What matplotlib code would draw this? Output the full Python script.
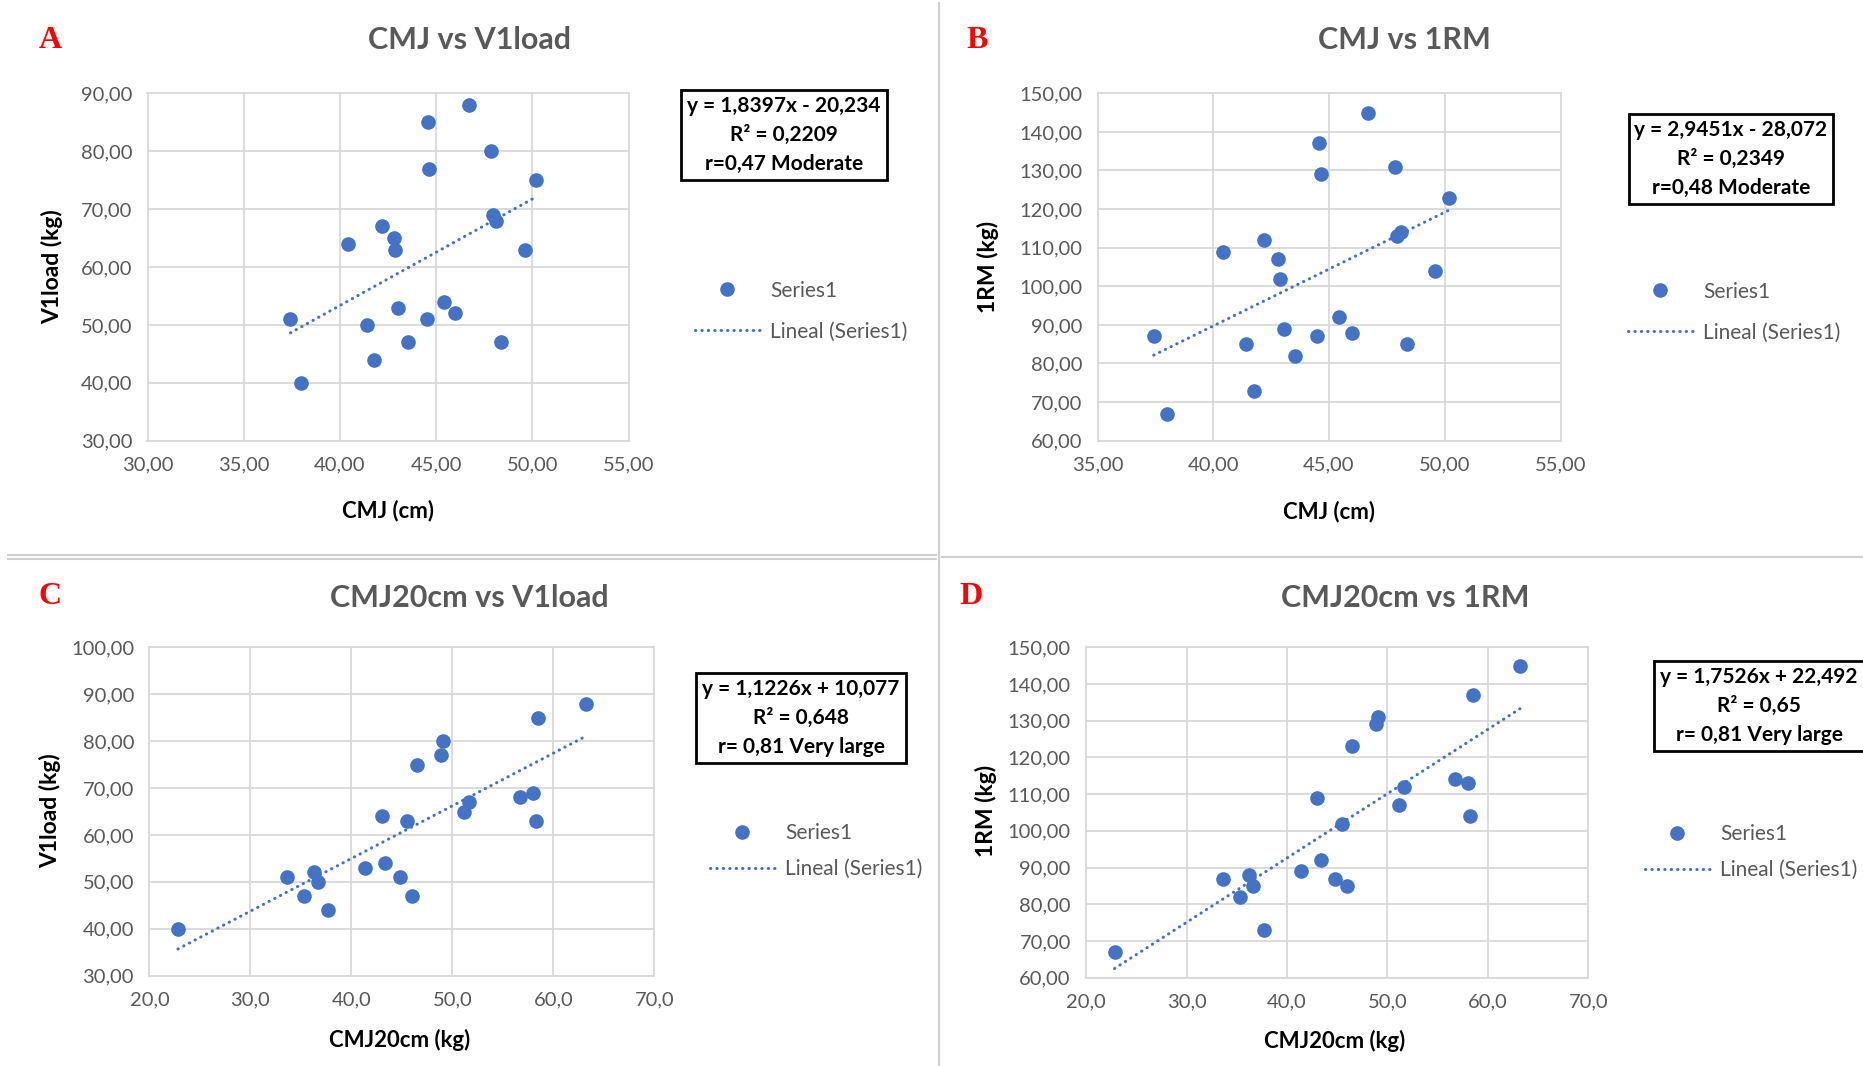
import matplotlib
matplotlib.use('Agg')
import matplotlib.pyplot as plt
from matplotlib.lines import Line2D
from matplotlib.ticker import FuncFormatter, MultipleLocator
import numpy as np

plt.rcParams['font.family'] = ['Lato', 'DejaVu Sans']

# one entry per athlete (same order in every list)
cmj = [46.7, 44.55, 47.85, 44.65, 50.2, 47.93, 48.13, 42.2, 42.8, 40.4, 42.87,
       49.6, 45.43, 43.04, 37.43, 46.0, 41.4, 44.5, 43.55, 48.37, 41.77, 38.0]
cmj20 = [63.2, 58.5, 49.1, 48.9, 46.5, 58.0, 56.7, 51.65, 51.15, 43.0, 45.5,
         58.25, 43.35, 41.38, 33.66, 36.27, 36.65, 44.8, 35.35, 46.0, 37.7, 22.83]
v1load = [88, 85, 80, 77, 75, 69, 68, 67, 65, 64, 63,
          63, 54, 53, 51, 52, 50, 51, 47, 47, 44, 40]
rm1 = [145, 137, 131, 129, 123, 113, 114, 112, 107, 109, 102,
       104, 92, 89, 87, 88, 85, 87, 82, 85, 73, 67]

# linear fits as printed on the chart (slope, intercept)
fit_a = [1.8397, -20.234]
fit_b = [2.9451, -28.072]
fit_c = [1.1226, 10.077]
fit_d = [1.7526, 22.492]

box_a = 'y = 1,8397x - 20,234\nR² = 0,2209\nr=0,47 Moderate'
box_b = 'y = 2,9451x - 28,072\nR² = 0,2349\nr=0,48 Moderate'
box_c = 'y = 1,1226x + 10,077\nR² = 0,648\nr= 0,81 Very large'
box_d = 'y = 1,7526x + 22,492\nR² = 0,65\nr= 0,81 Very large'

W, H = 1863, 1066
BLUE = '#4472C4'
GREY = '#595959'
GRID = '#d9d9d9'


def fx(px):
    return px / W


def fy(py):
    return 1 - py / H


def comma(dec):
    return FuncFormatter(lambda v, p: f'{v:.{dec}f}'.replace('.', ','))


fig = plt.figure(figsize=(W / 100, H / 100), dpi=100)

panels = [
    # letter, title, x, y, fit, box, xlabel, ylabel, xlim, xstep, xdec, ylim,
    # axes rect (px), letter pos, title pos, ylabel pos, xlabel pos, box pos, legend pos, legend gap
    ('A', 'CMJ vs V1load', cmj, v1load, fit_a, box_a, 'CMJ (cm)', 'V1load (kg)',
     (30, 55), 5, 2, (30, 90), (147.5, 93.3, 628.6, 440.7),
     (50, 41), (470, 40), (52, 267), (388, 511), (784, 135), (695, 311), 1.0),
    ('B', 'CMJ vs 1RM', cmj, rm1, fit_b, box_b, 'CMJ (cm)', '1RM (kg)',
     (35, 55), 5, 2, (60, 150), (1097.5, 93.3, 1560.5, 440.7),
     (977, 41), (1404, 40), (988, 267), (1329, 512), (1731, 159), (1628, 312), 1.0),
    ('C', 'CMJ20cm vs V1load', cmj20, v1load, fit_c, box_c, 'CMJ20cm (kg)', 'V1load (kg)',
     (20, 70), 10, 1, (30, 100), (149.4, 647.3, 654.3, 975.7),
     (50, 597), (469, 598), (50, 811), (400, 1040), (801, 718), (710, 851), 0.75),
    ('D', 'CMJ20cm vs 1RM', cmj20, rm1, fit_d, box_d, 'CMJ20cm (kg)', '1RM (kg)',
     (20, 70), 10, 1, (60, 150), (1086.1, 647.3, 1588.2, 977.7),
     (971, 597), (1405, 598), (986, 811), (1335, 1041), (1759, 706), (1645, 852), 0.75),
]

for (letter, title, xs, ys, fit, box, xlabel, ylabel, xlim, xstep, xdec, ylim, rect,
     p_letter, p_title, p_ylab, p_xlab, p_box, p_leg, gap) in panels:
    l, t, r, b = rect
    ax = fig.add_axes([fx(l), fy(b), (r - l) / W, (b - t) / H])
    xs = np.array(xs, dtype=float)
    ys = np.array(ys, dtype=float)

    ax.grid(True, color=GRID, lw=1.3, zorder=0)
    pts, = ax.plot(xs, ys, 'o', color=BLUE, ms=9.5, mec=BLUE, zorder=3)
    xf = np.array([xs.min(), xs.max()])
    trend, = ax.plot(xf, fit[0] * xf + fit[1], color=BLUE, lw=2.2,
                     linestyle=(0, (0.1, 2.0)), dash_capstyle='round', zorder=2)

    ax.set_xlim(*xlim)
    ax.set_ylim(*ylim)
    ax.xaxis.set_major_locator(MultipleLocator(xstep))
    ax.yaxis.set_major_locator(MultipleLocator(10))
    ax.xaxis.set_major_formatter(comma(xdec))
    ax.yaxis.set_major_formatter(comma(2))
    ax.tick_params(length=0, labelsize=14.5, labelcolor=GREY, pad=11)
    ax.set_axisbelow(True)
    for s in ax.spines.values():
        s.set_color(GRID)
        s.set_linewidth(1.3)

    fig.text(fx(p_letter[0]), fy(p_letter[1]), letter, color='red', fontsize=23,
             fontweight='bold', family=['Liberation Serif', 'DejaVu Serif'],
             ha='center', va='center')
    fig.text(fx(p_title[0]), fy(p_title[1]), title, color=GREY, fontsize=22,
             fontweight='bold', ha='center', va='center')
    fig.text(fx(p_ylab[0]), fy(p_ylab[1]), ylabel, color='black', fontsize=16.5,
             fontweight='bold', rotation=90, ha='center', va='center')
    fig.text(fx(p_xlab[0]), fy(p_xlab[1]), xlabel, color='black', fontsize=16,
             fontweight='bold', ha='center', va='center')
    fig.text(fx(p_box[0]), fy(p_box[1]), box, color='black', fontsize=15,
             fontweight='bold', ha='center', va='center', linespacing=1.55,
             bbox=dict(boxstyle='square,pad=0.28', fc='white', ec='black', lw=2))

    ax.legend([pts, trend], ['Series1', 'Lineal (Series1)'], loc='center left',
              bbox_to_anchor=(fx(p_leg[0]), fy(p_leg[1])), bbox_transform=fig.transFigure,
              frameon=False, fontsize=15, labelcolor=GREY, borderpad=0, borderaxespad=0,
              handlelength=3.1, handletextpad=0.5, labelspacing=gap)

# panel separators
sep = '#cfcfcf'
fig.add_artist(Line2D([fx(8), fx(936)], [fy(555), fy(555)], color=sep, lw=1.5))
fig.add_artist(Line2D([fx(8), fx(936)], [fy(559), fy(559)], color=sep, lw=1.5))
fig.add_artist(Line2D([fx(942), fx(1863)], [fy(557), fy(557)], color=sep, lw=1.5))
fig.add_artist(Line2D([fx(939), fx(939)], [fy(3), fy(1066)], color=sep, lw=1.5))

fig.savefig('out.png', dpi=100, facecolor='white')
